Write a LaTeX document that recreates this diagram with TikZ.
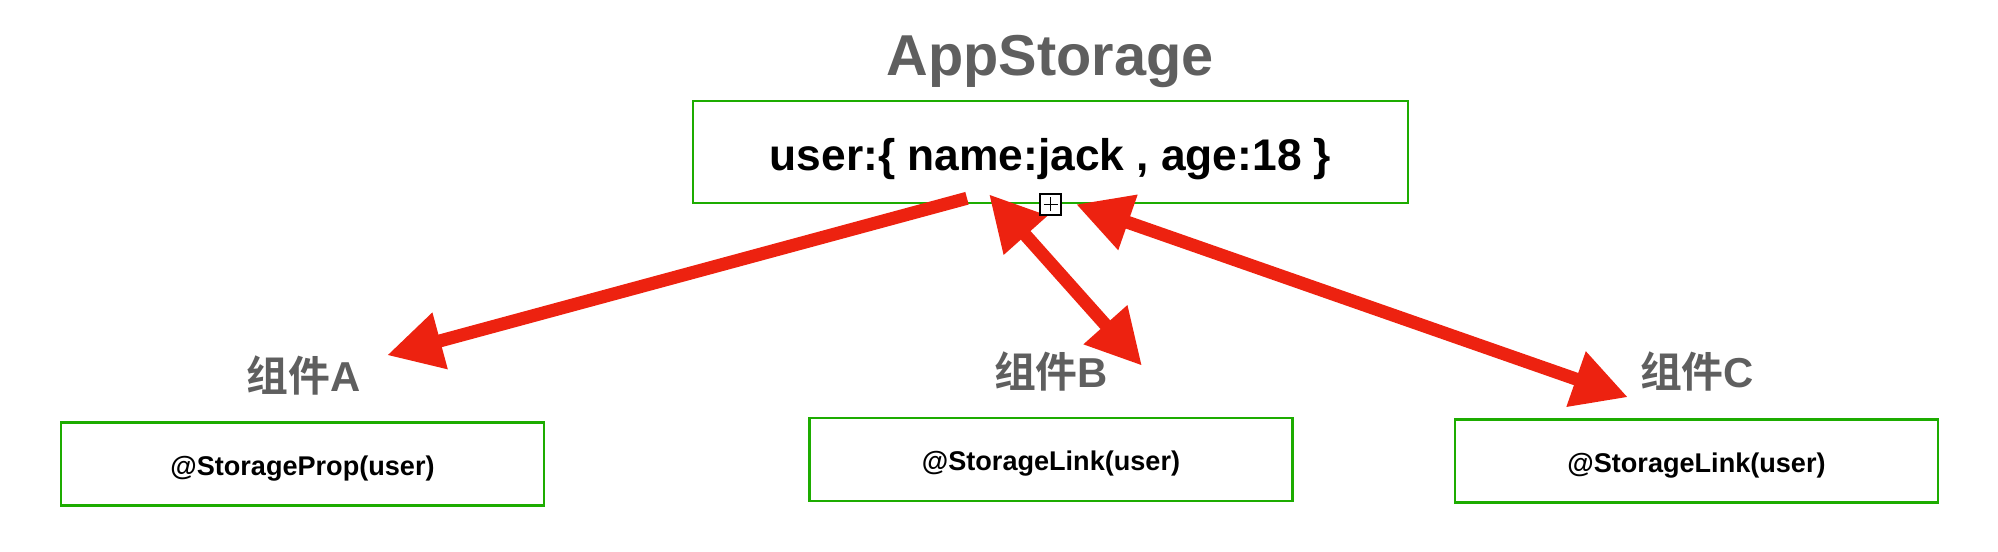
\documentclass[tikz,border=0pt]{standalone}
\usepackage{fontspec}
\setmainfont{Liberation Sans}
\newfontfamily\cjk{Noto Sans CJK SC}[BoldFont={* Bold}]
\usetikzlibrary{arrows.meta}
\definecolor{boxgreen}{RGB}{29,172,0}
\definecolor{linkred}{RGB}{237,34,16}
\definecolor{titlegray}{RGB}{95,95,95}
\tikzset{
  storebox/.style={draw=boxgreen, line width=0.7pt, minimum width=7.15cm, minimum height=1.02cm, inner sep=0,
    font=\bfseries\fontsize{12.6}{14}\selectfont, text height=0.41cm, text depth=0.05cm},
  compbox/.style={draw=boxgreen, line width=0.7pt, minimum width=4.83cm, minimum height=0.83cm, inner sep=0,
    font=\bfseries\fontsize{7.7}{9}\selectfont, text height=0.26cm, text depth=0.04cm},
  complabel/.style={text=titlegray, inner sep=0, font=\bfseries\fontsize{11.9}{14}\selectfont},
  link/.style={draw=linkred, line width=0.13cm},
  >={Triangle[length=0.55cm,width=0.55cm]}
}
\begin{document}
\begin{tikzpicture}[x=0.01cm, y=-0.01cm]
\useasboundingbox (0,0) rectangle (1998,552);
% storage
\node[anchor=base, text=titlegray, inner sep=0, font=\bfseries\fontsize{16.4}{19}\selectfont] (title) at (1050,76) {AppStorage};
\node[storebox] (store) at (1050.5,152) {user:\{ name:jack , age:18 \}};
% components
\node[complabel] (labA) at (303.5,375) {{\cjk\bfseries 组件}A};
\node[complabel] (labB) at (1051,371.5) {{\cjk\bfseries 组件}B};
\node[complabel] (labC) at (1697,371.5) {{\cjk\bfseries 组件}C};
\node[compbox] (compA) at (302.5,464) {@StorageProp(user)};
\node[compbox] (compB) at (1051,459.5) {@StorageLink(user)};
\node[compbox] (compC) at (1696.5,461) {@StorageLink(user)};
% links
\draw[link, ->] ([shift={(-83.5,-6)}]store.south) -- ([shift={(84.5,-66)}]compA.north);
\draw[link, <->] ([shift={(-61.5,-10)}]store.south) -- ([shift={(91,-51)}]compB.north);
\draw[link, <->] ([shift={(25.5,0)}]store.south) -- ([shift={(-68.5,-21)}]compC.north);
% toggle mark
\node[draw=black, fill=white, line width=0.45pt, minimum size=0.21cm, inner sep=0] (toggle) at (store.south) {};
\draw[line width=0.4pt] ([xshift=-0.07cm]toggle.center) -- ([xshift=0.07cm]toggle.center);
\draw[line width=0.4pt] ([yshift=-0.07cm]toggle.center) -- ([yshift=0.07cm]toggle.center);
\end{tikzpicture}
\end{document}
